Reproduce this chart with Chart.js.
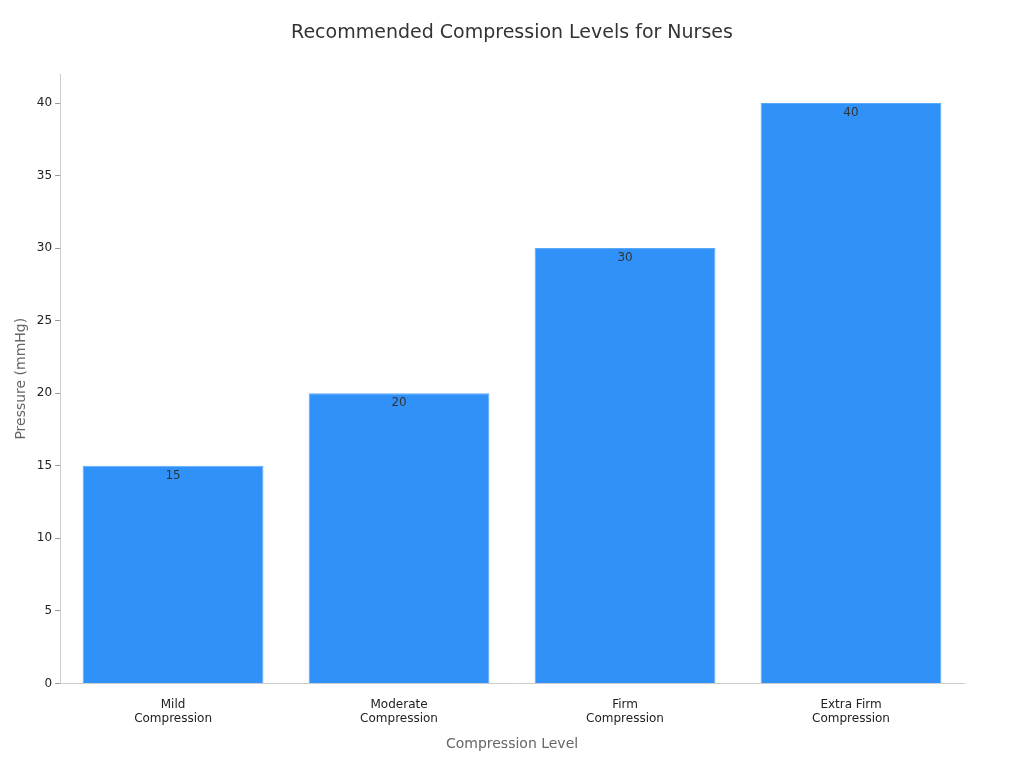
<!DOCTYPE html>
<html><head><meta charset="utf-8">
<script src="https://cdn.jsdelivr.net/npm/chart.js@4"></script>
<style>html,body{margin:0;padding:0;background:#fff}#w{width:1024px;height:768px}</style>
</head><body><div id="w"><canvas id="c"></canvas></div>
<script>
const categories = [["Mild","Compression"],["Moderate","Compression"],["Firm","Compression"],["Extra Firm","Compression"]];
const pressureValues = [15, 20, 30, 40];
const chartTitle = 'Recommended Compression Levels for Nurses';
const labelPlugin = {
  id: 'vals',
  afterDatasetsDraw(chart) {
    const ctx = chart.ctx;
    const meta = chart.getDatasetMeta(0);
    ctx.save();
    ctx.font = '12px "DejaVu Sans"';
    ctx.fillStyle = '#333';
    ctx.textAlign = 'center';
    ctx.textBaseline = 'top';
    meta.data.forEach((bar, i) => {
      ctx.fillText(String(pressureValues[i]), bar.x, bar.y + 4);
    });
    ctx.font = '19px "DejaVu Sans"';
    ctx.textBaseline = 'middle';
    ctx.fillText(chartTitle, chart.width / 2, 33);
    ctx.restore();
  }
};
new Chart(document.getElementById('c'), {
  type: 'bar',
  data: { labels: categories, datasets: [{ data: pressureValues, backgroundColor: '#3092F9', borderColor: '#5aa8fa', borderWidth: 1, barPercentage: 0.8, categoryPercentage: 1.0 }] },
  options: {
    responsive: true, maintainAspectRatio: false, animation: false,
    layout: { padding: { left: 9, right: 60, top: 74, bottom: 11 } },
    plugins: { legend: { display: false }, tooltip: { enabled: false }, title: { display: false } },
    scales: {
      x: { grid: { display: false }, border: { color: '#ccc' },
           ticks: { color: '#222', font: { family: 'DejaVu Sans', size: 12 }, padding: 6 },
           title: { display: true, text: 'Compression Level', color: '#666', font: { family: 'DejaVu Sans', size: 14 } } },
      y: { min: 0, max: 42, grid: { drawOnChartArea: false, color: '#999', tickLength: 5 }, border: { color: '#ccc' },
           ticks: { color: '#222', font: { family: 'DejaVu Sans', size: 12 } },
           afterBuildTicks: a => { a.ticks = [0,5,10,15,20,25,30,35,40].map(v => ({ value: v })); },
           title: { display: true, text: 'Pressure (mmHg)', color: '#666', font: { family: 'DejaVu Sans', size: 14 } } }
    }
  },
  plugins: [labelPlugin]
});
</script></body></html>
